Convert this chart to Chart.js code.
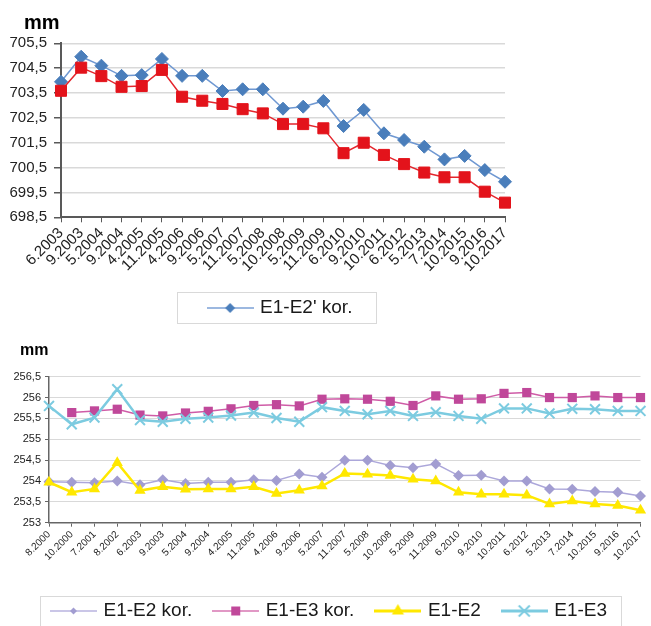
<!DOCTYPE html>
<html>
<head>
<meta charset="utf-8">
<script src="https://cdn.jsdelivr.net/npm/chart.js@4/dist/chart.umd.min.js"></script>
<style>
  html, body { margin: 0; padding: 0; background: #fff; overflow: hidden; width: 651px; height: 626px; }
  #levels { position: absolute; left: 0; top: 0; }
  #diffs  { position: absolute; left: 0; top: 330px; }
</style>
</head>
<body>
<canvas id="levels" width="651" height="330"></canvas>
<canvas id="diffs" width="651" height="302"></canvas>
<script>
// ---- Levelling E1-E2' (mm) ----
const levelDates = ['6.2003','9.2003','5.2004','9.2004','4.2005','11.2005','4.2006','9.2006','5.2007','11.2007',
  '5.2008','10.2008','5.2009','11.2009','6.2010','9.2010','10.2011','6.2012','5.2013','7.2014','10.2015','9.2016','10.2017'];
const levelKor = [703.95, 704.96, 704.60, 704.19, 704.22, 704.87, 704.19, 704.19, 703.58, 703.65,
  703.65, 702.87, 702.95, 703.18, 702.17, 702.82, 701.88, 701.61, 701.34, 700.83, 700.97, 700.40, 699.93];
const levelRaw = [703.59, 704.52, 704.18, 703.75, 703.78, 704.43, 703.35, 703.19, 703.06, 702.85,
  702.68, 702.25, 702.25, 702.08, 701.08, 701.50, 701.01, 700.64, 700.30, 700.11, 700.11, 699.53, 699.09];
const levelTicks = [698.5, 699.5, 700.5, 701.5, 702.5, 703.5, 704.5, 705.5];

// ---- Height differences E1-E2 / E1-E3 (mm) ----
const diffDates = ['8.2000','10.2000','7.2001','8.2002','6.2003','9.2003','5.2004','9.2004','4.2005','11.2005',
  '4.2006','9.2006','5.2007','11.2007','5.2008','10.2008','5.2009','11.2009','6.2010','9.2010',
  '10.2011','6.2012','5.2013','7.2014','10.2015','9.2016','10.2017'];
const e1e2Kor = [253.98, 253.97, 253.96, 254.00, 253.91, 254.03, 253.94, 253.97, 253.97, 254.03,
  254.01, 254.17, 254.09, 254.50, 254.50, 254.37, 254.32, 254.41, 254.13, 254.14,
  254.00, 254.00, 253.81, 253.80, 253.75, 253.73, 253.64];
const e1e3Kor = [null, 255.64, 255.68, 255.72, 255.58, 255.56, 255.63, 255.67, 255.73, 255.81,
  255.83, 255.80, 255.96, 255.97, 255.96, 255.91, 255.81, 256.04, 255.96, 255.97,
  256.10, 256.12, 256.00, 256.00, 256.04, 256.00, 256.00];
const e1e2 = [253.97, 253.73, 253.81, 254.44, 253.77, 253.86, 253.80, 253.81, 253.81, 253.86,
  253.70, 253.78, 253.88, 254.18, 254.16, 254.13, 254.04, 254.00, 253.73, 253.68,
  253.68, 253.66, 253.45, 253.52, 253.45, 253.41, 253.30];
const e1e3 = [255.80, 255.36, 255.52, 256.20, 255.46, 255.42, 255.49, 255.52, 255.57, 255.64,
  255.51, 255.42, 255.77, 255.68, 255.60, 255.68, 255.56, 255.65, 255.56, 255.49,
  255.74, 255.74, 255.62, 255.73, 255.72, 255.68, 255.68];
const diffTicks = [253, 253.5, 254, 254.5, 255, 255.5, 256, 256.5];

const FONT = "'Liberation Sans', Arial, sans-serif";
Chart.defaults.font.family = FONT;
Chart.defaults.animation = false;

const decimalComma = v => String(v).replace('.', ',');

// Legend swatch: a short line with the series marker in the middle
function swatch(shape, fill, lineColor, lineWidth, r, width) {
  const c = document.createElement('canvas');
  c.width = width; c.height = 22;
  const g = c.getContext('2d');
  const cx = width / 2, cy = 11;
  g.strokeStyle = lineColor; g.lineWidth = lineWidth;
  g.beginPath(); g.moveTo(0, cy); g.lineTo(width, cy); g.stroke();
  g.fillStyle = fill; g.strokeStyle = fill;
  g.beginPath();
  if (shape === 'diamond') {
    g.moveTo(cx, cy - r); g.lineTo(cx + r, cy); g.lineTo(cx, cy + r); g.lineTo(cx - r, cy); g.closePath(); g.fill();
  } else if (shape === 'square') {
    g.rect(cx - r, cy - r, 2 * r, 2 * r); g.fill();
  } else if (shape === 'triangle') {
    g.moveTo(cx, cy - r); g.lineTo(cx + r * 0.866, cy + r / 2); g.lineTo(cx - r * 0.866, cy + r / 2); g.closePath(); g.fill();
  } else if (shape === 'cross') {
    g.lineWidth = 2;
    g.moveTo(cx - r, cy - r); g.lineTo(cx + r, cy + r);
    g.moveTo(cx + r, cy - r); g.lineTo(cx - r, cy + r); g.stroke();
  }
  return c;
}

function legendItems(icons) {
  return chart => chart.data.datasets
    .map((ds, i) => ({ text: ds.label, pointStyle: icons[i], datasetIndex: i, hidden: false,
      lineWidth: 0, fillStyle: 'rgba(0,0,0,0)', strokeStyle: 'rgba(0,0,0,0)', fontColor: '#1a1a1a' }))
    .filter(it => it.pointStyle);
}

// Unit caption above the value axis
const unitLabel = {
  id: 'unitLabel',
  afterDraw(chart, args, o) {
    const ctx = chart.ctx;
    ctx.save();
    ctx.font = o.font; ctx.fillStyle = '#000'; ctx.textBaseline = 'alphabetic';
    ctx.fillText(o.text, o.x, o.y);
    ctx.restore();
  }
};

// Re-centre the legend row about a given x
const legendCenter = {
  id: 'legendCenter',
  afterUpdate(chart, args, o) {
    const lg = chart.legend;
    if (!lg || o.x == null) return;
    const shift = o.x - (lg.left + lg.right) / 2;
    lg.left += shift; lg.right += shift;
    (lg.legendHitBoxes || []).forEach(h => { h.left += shift; });
  }
};

// Thin frame around the legend entries
const legendFrame = {
  id: 'legendFrame',
  afterDraw(chart, args, o) {
    const hb = chart.legend && chart.legend.legendHitBoxes;
    if (!hb || !hb.length) return;
    const left = Math.min(...hb.map(h => h.left)) - o.padLeft;
    const right = Math.max(...hb.map(h => h.left + h.width)) + o.padRight;
    const top = hb[0].top - o.padTop;
    const bottom = hb[0].top + hb[0].height + o.padBottom;
    const ctx = chart.ctx;
    ctx.save();
    ctx.strokeStyle = '#d9d9d9'; ctx.lineWidth = 1;
    ctx.strokeRect(Math.round(left) + 0.5, Math.round(top) + 0.5, Math.round(right - left), Math.round(bottom - top));
    ctx.restore();
  }
};

// ---------- upper chart ----------
const levelIcons = [swatch('diamond', '#4a7ebb', '#7ba1d6', 1.5, 5, 47), null];
new Chart(document.getElementById('levels'), {
  type: 'line',
  data: {
    labels: levelDates,
    datasets: [
      { label: "E1-E2' kor.", data: levelKor, order: 1,
        borderColor: '#6f98d2', borderWidth: 1.5, tension: 0, clip: false,
        pointStyle: 'rectRot', pointRadius: 6.5, pointBackgroundColor: '#4a7ebb', pointBorderColor: '#4a7ebb', pointBorderWidth: 1 },
      { label: "E1-E2'", data: levelRaw, order: 0,
        borderColor: '#e4252c', borderWidth: 1.5, tension: 0, clip: false,
        pointStyle: 'rect', pointRadius: 7.8, pointBackgroundColor: '#e3131b', pointBorderColor: '#e3131b', pointBorderWidth: 1 }
    ]
  },
  options: {
    responsive: false,
    devicePixelRatio: 1,
    layout: { padding: { left: 0, right: 146, top: 43.3, bottom: 2.5 } },
    scales: {
      x: {
        offset: false,
        afterFit: s => { s.height = 58.2; },
        ticks: { autoSkip: false, minRotation: 45, maxRotation: 45, font: { size: 15 }, color: '#222', padding: 2 },
        grid: { drawOnChartArea: false, tickColor: '#595959', tickLength: 5 },
        border: { color: '#595959', width: 2 }
      },
      y: {
        min: 698.5, max: 705.5,
        afterBuildTicks: s => { s.ticks = levelTicks.map(v => ({ value: v })); },
        afterFit: s => { s.width = 61; },
        ticks: { callback: decimalComma, font: { size: 15 }, color: '#222', padding: 7 },
        grid: { color: c => (c.tick && c.tick.value === levelTicks[0]) ? 'rgba(0,0,0,0)' : '#d9d9d9',
                lineWidth: 1.5, tickColor: '#595959', tickLength: 7 },
        border: { color: '#595959', width: 2 }
      }
    },
    plugins: {
      title: { display: false },
      tooltip: { enabled: false },
      legend: {
        position: 'bottom',
        labels: { usePointStyle: true, pointStyleWidth: 41, padding: 23, font: { size: 19 }, color: '#1a1a1a',
                  generateLabels: legendItems(levelIcons) }
      },
      unitLabel: { text: 'mm', font: `bold 20px ${FONT}`, x: 24, y: 29 },
      legendCenter: { x: 281 },
      legendFrame: { padLeft: 33, padRight: 23, padTop: 6.5, padBottom: 5.5 }
    }
  },
  plugins: [unitLabel, legendCenter, legendFrame]
});

// ---------- lower chart ----------
const diffIcons = [
  swatch('diamond', '#a29dd1', '#b8b3df', 1.5, 3.5, 47),
  swatch('square', '#c0489a', '#d776b2', 1.5, 4.5, 47),
  swatch('triangle', '#ffe800', '#ffe800', 3, 7, 47),
  swatch('cross', '#7ccbe0', '#7ccbe0', 3, 5.5, 47)
];
new Chart(document.getElementById('diffs'), {
  type: 'line',
  data: {
    labels: diffDates,
    datasets: [
      { label: 'E1-E2 kor.', data: e1e2Kor, order: 3,
        borderColor: '#aca7da', borderWidth: 1.5, tension: 0, clip: false,
        pointStyle: 'rectRot', pointRadius: 5.5, pointBackgroundColor: '#a29dd1', pointBorderColor: '#a29dd1', pointBorderWidth: 0 },
      { label: 'E1-E3 kor.', data: e1e3Kor, order: 2,
        borderColor: '#cf5ca7', borderWidth: 1.5, tension: 0, clip: false,
        pointStyle: 'rect', pointRadius: 6.5, pointBackgroundColor: '#c0489a', pointBorderColor: '#c0489a', pointBorderWidth: 0 },
      { label: 'E1-E2', data: e1e2, order: 1,
        borderColor: '#ffe800', borderWidth: 2.5, tension: 0, clip: false,
        pointStyle: 'triangle', pointRadius: 6.5, pointBackgroundColor: '#ffe800', pointBorderColor: '#ffe800', pointBorderWidth: 0 },
      { label: 'E1-E3', data: e1e3, order: 0,
        borderColor: '#7ccbe0', borderWidth: 2.5, tension: 0, clip: false,
        pointStyle: 'crossRot', pointRadius: 7, pointBackgroundColor: '#7ccbe0', pointBorderColor: '#7ccbe0', pointBorderWidth: 2 }
    ]
  },
  options: {
    responsive: false,
    devicePixelRatio: 1,
    layout: { padding: { left: 0, right: 8.3, top: 46.7, bottom: 1.5 } },
    scales: {
      x: {
        offset: false,
        afterFit: s => { s.height = 55.8; },
        ticks: { autoSkip: false, minRotation: 45, maxRotation: 45, font: { size: 10 }, color: '#222', padding: 2 },
        grid: { drawOnChartArea: false, tickColor: '#666', tickLength: 4 },
        border: { color: '#666', width: 1.5 }
      },
      y: {
        min: 253, max: 256.5,
        afterBuildTicks: s => { s.ticks = diffTicks.map(v => ({ value: v })); },
        afterFit: s => { s.width = 49; },
        ticks: { callback: decimalComma, font: { size: 11 }, color: '#222', padding: 4 },
        grid: { color: c => (c.tick && c.tick.value === diffTicks[0]) ? 'rgba(0,0,0,0)' : '#d9d9d9',
                lineWidth: 1, tickColor: '#666', tickLength: 4 },
        border: { color: '#666', width: 1.5 }
      }
    },
    plugins: {
      title: { display: false },
      tooltip: { enabled: false },
      legend: {
        position: 'bottom',
        labels: { usePointStyle: true, pointStyleWidth: 41, padding: 23, font: { size: 19 }, color: '#1a1a1a',
                  generateLabels: legendItems(diffIcons) }
      },
      unitLabel: { text: 'mm', font: `bold 16px ${FONT}`, x: 20, y: 25 },
      legendCenter: { x: 330 },
      legendFrame: { padLeft: 13, padRight: 14, padTop: 5.5, padBottom: 12 }
    }
  },
  plugins: [unitLabel, legendCenter, legendFrame]
});
</script>
</body>
</html>
